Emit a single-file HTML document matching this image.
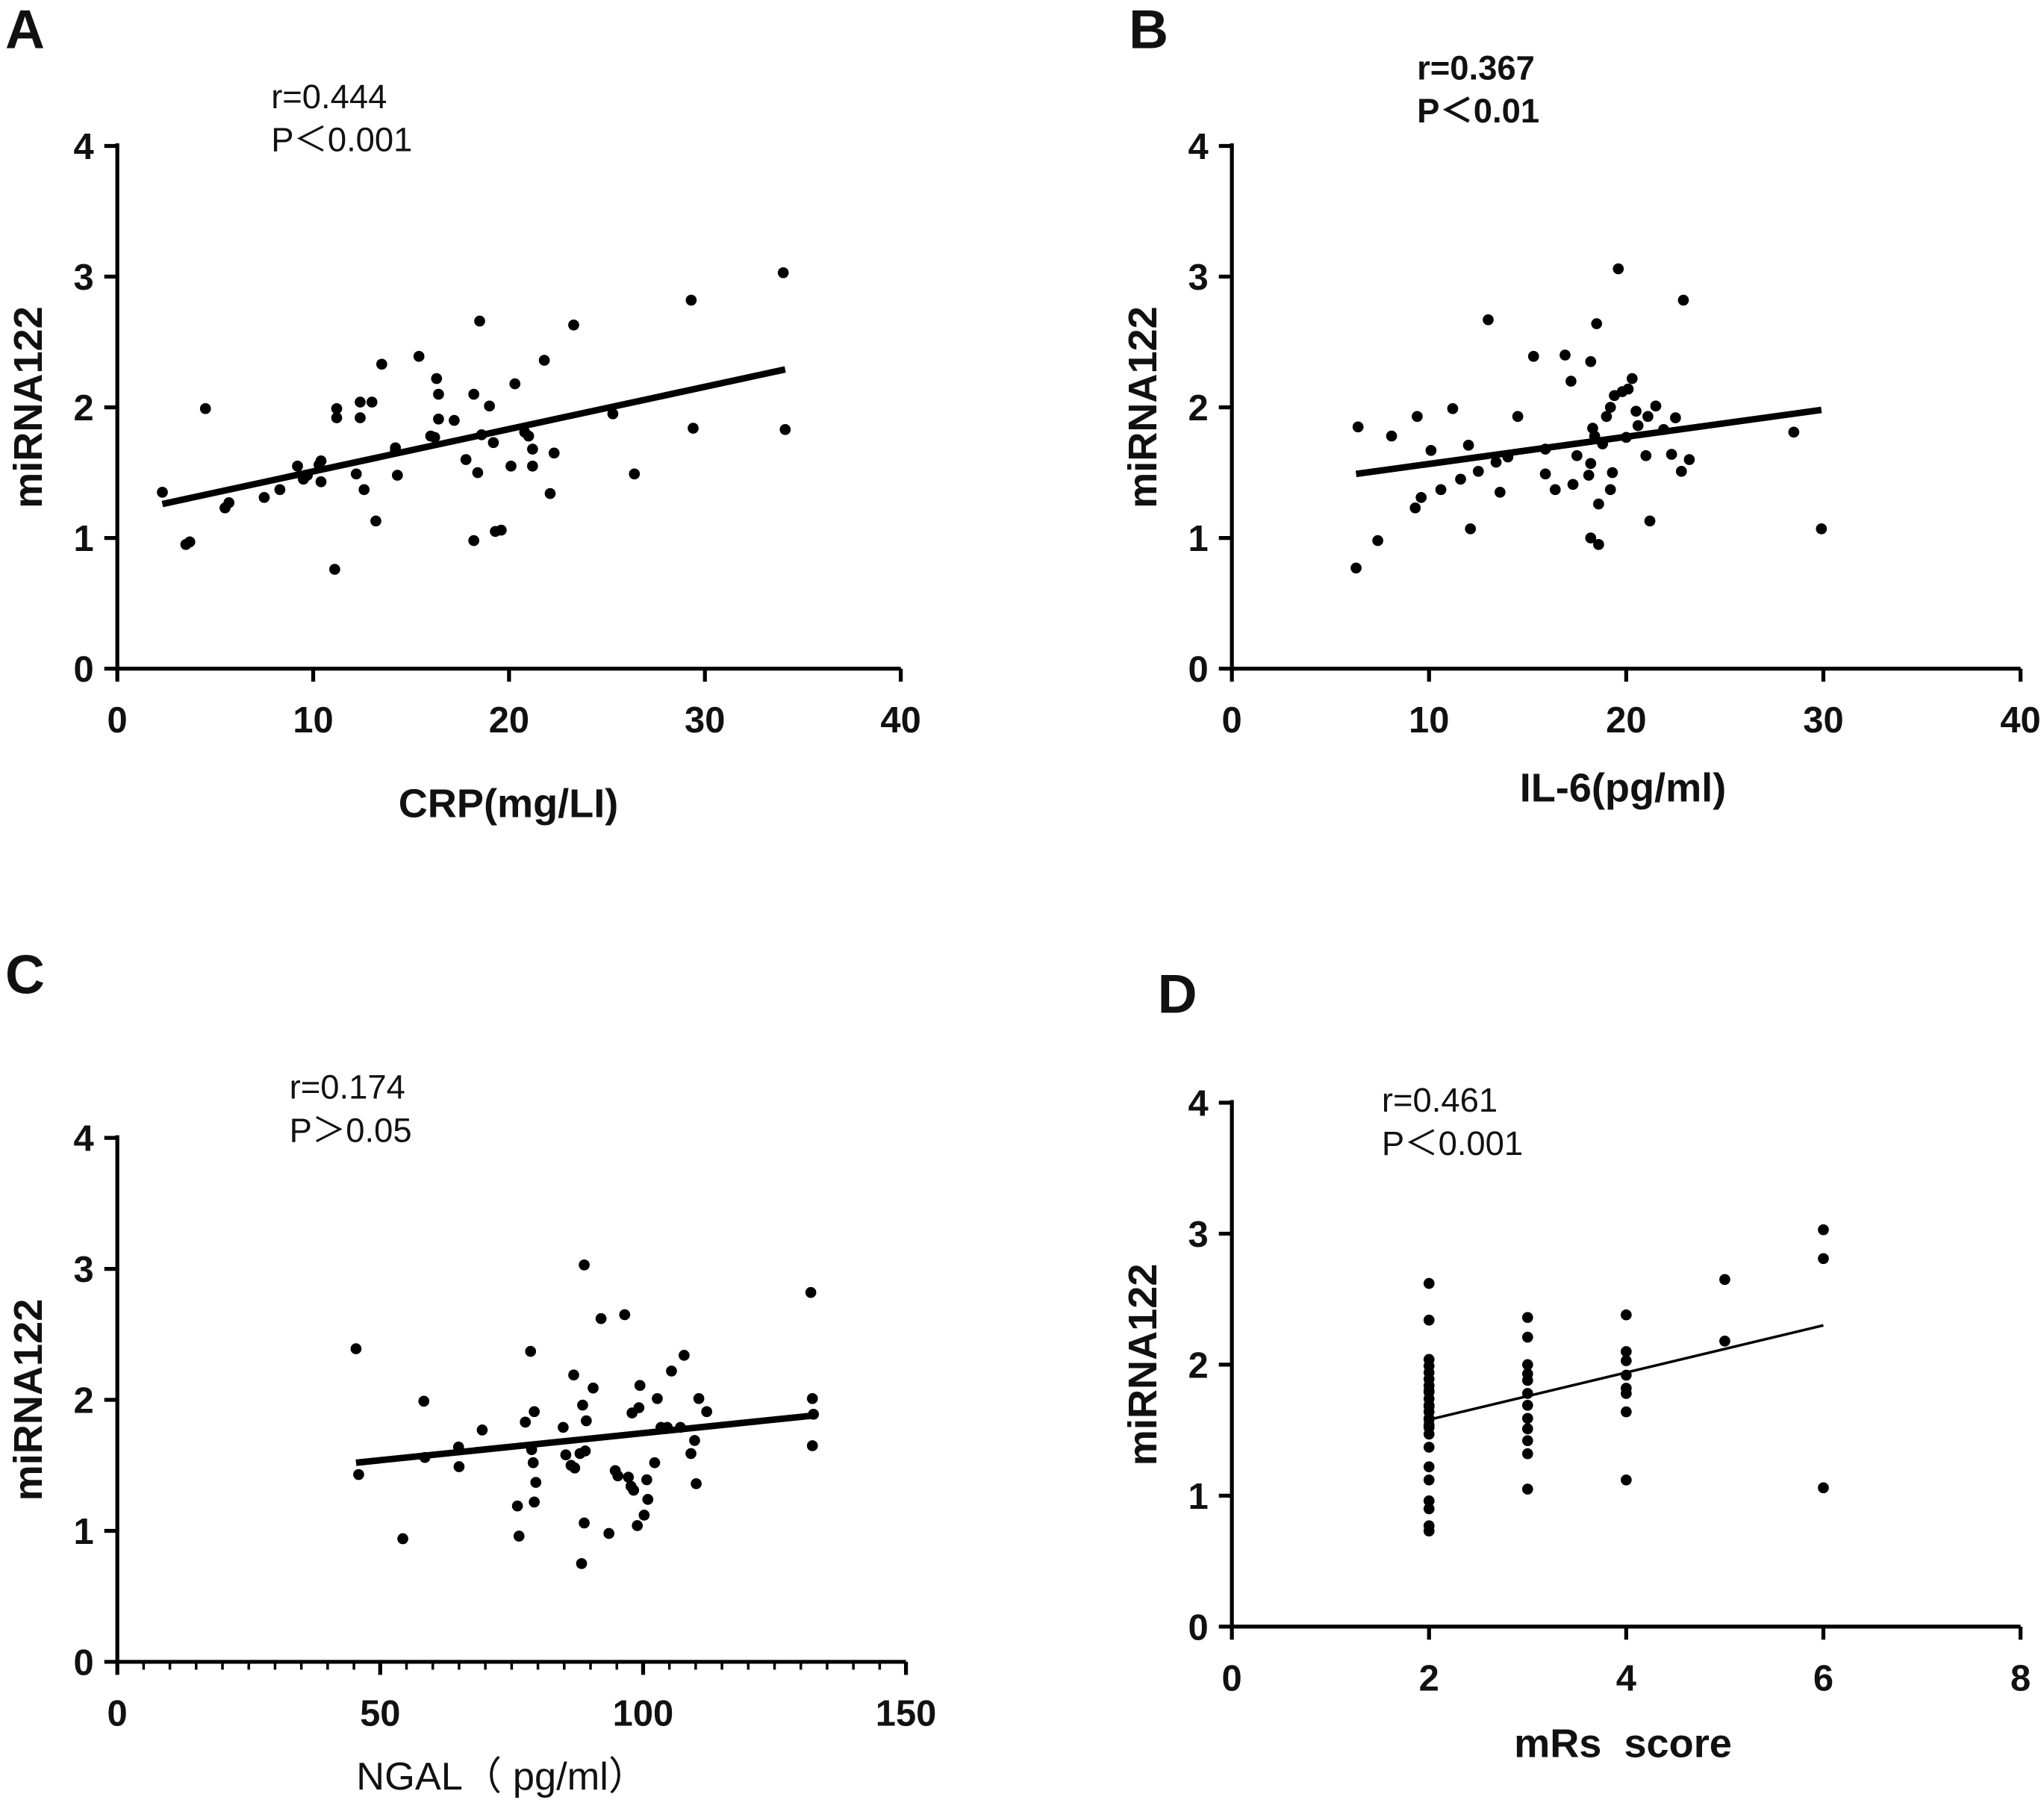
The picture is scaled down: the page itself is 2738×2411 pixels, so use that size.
<!DOCTYPE html>
<html><head><meta charset="utf-8"><style>
html,body{margin:0;padding:0;background:#fff;}
svg{display:block;}
text{font-family:"Liberation Sans","Noto Sans CJK SC",sans-serif;fill:#111;white-space:pre;}
</style></head><body>
<svg id="fig" width="2738" height="2411" viewBox="0 0 1568 1381" preserveAspectRatio="none" xmlns="http://www.w3.org/2000/svg"></svg>
<script>
// Panel A data
const aX=[2.3,3.5,3.7,4.5,5.5,5.7,7.5,8.3,9.2,9.5,9.7,10.3,10.4,10.4,11.2,11.2,11.1,12.2,12.4,12.4,12.6,13.0,13.2,13.5,14.2,14.2,14.3,15.4,16.0,16.2,16.3,16.4,16.4,17.2,17.8,18.2,18.2,18.4,18.6,19.0,19.2,19.3,19.6,20.1,20.3,20.8,21.0,21.2,21.2,21.8,22.1,22.3,23.3,25.3,26.4,29.3,29.4,34.0,34.1,18.5];
const aY=[1.35,0.95,0.97,1.99,1.23,1.27,1.31,1.37,1.55,1.45,1.48,1.56,1.59,1.43,1.99,1.92,0.76,1.49,2.04,1.92,1.37,2.04,1.13,2.33,1.69,1.67,1.48,2.39,1.78,1.77,2.22,2.1,1.91,1.9,1.6,0.98,2.1,1.5,1.79,2.01,1.73,1.05,1.06,1.55,2.18,1.81,1.78,1.68,1.55,2.36,1.34,1.65,2.63,1.95,1.49,2.82,1.84,3.03,1.83,2.66];
const aFit=[2.3,1.26,34.1,2.29];
// Panel B data
const bX=[6.4,6.3,7.4,8.1,9.4,9.3,9.6,10.1,10.6,11.2,11.6,12.0,12.1,12.5,13.0,13.4,13.6,14.0,14.5,15.3,15.9,15.9,16.4,16.9,17.2,17.3,17.5,18.1,18.2,18.2,18.2,18.3,18.4,18.5,18.6,18.6,18.8,19.0,19.2,19.2,19.3,19.4,19.6,19.8,20.0,20.1,20.3,20.5,20.6,21.0,21.1,21.2,21.5,21.9,22.3,22.5,22.8,22.9,23.2,28.5,29.9];
const bY=[1.85,0.77,0.98,1.78,1.93,1.23,1.31,1.67,1.37,1.99,1.45,1.71,1.07,1.51,2.67,1.58,1.35,1.62,1.93,2.39,1.68,1.49,1.37,2.40,2.2,1.41,1.63,1.48,1.57,1.0,2.35,1.84,1.78,2.64,0.95,1.26,1.72,1.93,2.0,1.37,1.5,2.09,3.06,2.12,1.77,2.14,2.22,1.97,1.86,1.63,1.93,1.13,2.01,1.83,1.64,1.92,1.51,2.82,1.6,1.81,1.07];
const bFit=[6.3,1.49,29.9,1.98];
// Panel C data
const cX=[45.4,45.9,54.3,58.3,58.5,64.9,65.0,69.4,76.1,76.4,77.6,78.6,78.8,79.3,79.1,79.6,79.3,84.8,85.3,86.3,86.8,87.0,88.0,88.3,88.5,88.8,88.8,89.2,89.0,90.5,92.0,93.5,94.7,95.2,96.5,97.2,97.7,97.9,98.2,98.9,99.2,99.4,100.2,100.7,100.9,102.2,102.7,103.4,104.6,105.4,107.1,107.8,109.1,109.8,110.1,110.6,112.1,131.9,132.2,132.4,132.2];
const cY=[2.39,1.43,0.94,1.99,1.56,1.64,1.49,1.77,1.19,0.96,1.83,2.37,1.62,1.91,1.52,1.37,1.22,1.79,1.58,1.5,2.19,1.48,1.59,0.75,1.96,3.03,1.06,1.84,1.61,2.09,2.62,0.98,1.46,1.42,2.65,1.41,1.34,1.9,1.31,1.04,1.94,2.11,1.12,1.39,1.24,1.52,2.01,1.79,1.79,2.22,1.79,2.34,1.59,1.69,1.36,2.01,1.91,2.82,2.01,1.89,1.65];
const cFit=[45.4,1.52,132.4,1.88];
// Panel D data
const dX=[2,2,2,2,2,2,2,2,2,2,2,2,2,2,2,2,2,2,2,2,2,2,2,2,2,3,3,3,3,3,3,3,3,3,3,3,3,4,4,4,4,4,4,4,4,5,5,6,6,6];
const dY=[2.62,2.34,2.04,1.99,1.94,1.89,1.84,1.79,1.74,1.69,1.64,1.59,1.54,1.47,1.37,1.22,1.12,0.96,0.9,0.73,0.77,1.80,1.58,1.52,1.68,2.36,2.21,2.0,1.93,1.88,1.78,1.69,1.59,1.51,1.42,1.32,1.05,2.38,2.1,2.03,1.92,1.82,1.78,1.64,1.12,2.65,2.18,3.03,2.81,1.06];
const dFit=[2,1.58,6,2.3];
const yTicks=[0,1,2,3,4];
const aXTicks=[0,10,20,30,40], cXTicks=[0,50,100,150], dXTicks=[0,2,4,6,8];

const NS='http://www.w3.org/2000/svg';
const svg=document.getElementById('fig');
function mk(tag,attrs,parent,txt){const e=document.createElementNS(NS,tag);for(const k in attrs)e.setAttribute(k,attrs[k]);if(txt!==undefined)e.textContent=txt;(parent||svg).appendChild(e);return e;}

function panel(p){
  const g=mk('g',{});
  
  
  const sx=v=>p.x0+(v-p.xmin)/(p.xmax-p.xmin)*(p.x1-p.x0);
  const sy=v=>p.y0-(v/4)*(p.y0-p.y1);
  const ax=mk('path',{d:`M${p.x0} ${p.y1-2}V${p.y0}H${p.x1}`,stroke:'#000','stroke-width':3,fill:'none'},g);
  
  
  yTicks.forEach(t=>{
    mk('line',{x1:p.x0-10,x2:p.x0,y1:sy(t),y2:sy(t),stroke:'#000','stroke-width':3},g);
    const tl=mk('text',{x:p.x0-18,y:sy(t)+10,'text-anchor':'end','font-size':28,'font-weight':'bold'},g,String(t));
    
    
  });
  if(p.minor){for(let v=p.xmin;v<=p.xmax;v+=p.minor){mk('line',{x1:sx(v),x2:sx(v),y1:p.y0,y2:p.y0+6,stroke:'#000','stroke-width':2},g);}}
  p.xt.forEach(t=>{
    mk('line',{x1:sx(t),x2:sx(t),y1:p.y0,y2:p.y0+10,stroke:'#000','stroke-width':3},g);
    const tl=mk('text',{x:sx(t),y:p.y0+49,'text-anchor':'middle','font-size':28,'font-weight':'bold'},g,String(t));
    
    
  });
  p.xs.forEach((v,i)=>{
    const c=mk('circle',{cx:sx(v),cy:sy(p.ys[i]),r:4.2,fill:'#000'},g);
    
    
  });
  const f=p.fit;
  const l=mk('line',{x1:sx(f[0]),y1:sy(f[1]),x2:sx(f[2]),y2:sy(f[3]),stroke:'#000','stroke-width':p.lw},g);
  
  
  const yl=mk('text',{transform:`translate(${p.x0-58},${(p.y0+p.y1)/2}) rotate(-90)`,'text-anchor':'middle','font-size':31,'font-weight':'bold'},g,'miRNA122');
  
  
  const xl=mk('text',{x:p.tx,y:p.ty,'text-anchor':'middle','font-size':p.tbold?31:30,'font-weight':p.tbold?'bold':'normal'},g,p.title);
  
  
  const r=mk('text',{x:p.rx,y:p.ry,'font-size':26,'font-weight':p.rbold?'bold':'normal'},g,p.r);
  
  
  const pv=mk('text',{x:p.rx,y:p.ry+33,'font-size':26,'font-weight':p.rbold?'bold':'normal'},g,p.p);
  
  
  const L=mk('text',{x:p.lx,y:p.ly,'font-size':42,'font-weight':'bold'},g,p.id);
  
  
}
panel({id:'A',x0:90,x1:691,y0:513,y1:112,xmin:0,xmax:40,xt:aXTicks,xs:aX,ys:aY,fit:aFit,lw:5,title:'CRP(mg/LI)',tbold:true,tx:390,ty:627,r:'r=0.444',p:'P＜0.001',rx:208,ry:83,lx:4,ly:37});
panel({id:'B',x0:945,x1:1550,y0:513,y1:112,xmin:0,xmax:40,xt:aXTicks,xs:bX,ys:bY,fit:bFit,lw:5,title:'IL-6(pg/ml)',tbold:true,tx:1245,ty:615,r:'r=0.367',p:'P＜0.01',rx:1087,ry:61,rbold:true,lx:866,ly:37});
panel({id:'C',x0:90,x1:695,y0:1275,y1:873,xmin:0,xmax:150,xt:cXTicks,minor:5,xs:cX,ys:cY,fit:cFit,lw:5,title:'NGAL（ pg/ml）',tbold:false,tx:385,ty:1373,r:'r=0.174',p:'P＞0.05',rx:222,ry:843,lx:4,ly:762});
panel({id:'D',x0:945,x1:1550,y0:1248,y1:846,xmin:0,xmax:8,xt:dXTicks,xs:dX,ys:dY,fit:dFit,lw:2,title:'mRs  score',tbold:true,tx:1245,ty:1348,r:'r=0.461',p:'P＜0.001',rx:1060,ry:853,lx:888,ly:777});
</script>
</body></html>
